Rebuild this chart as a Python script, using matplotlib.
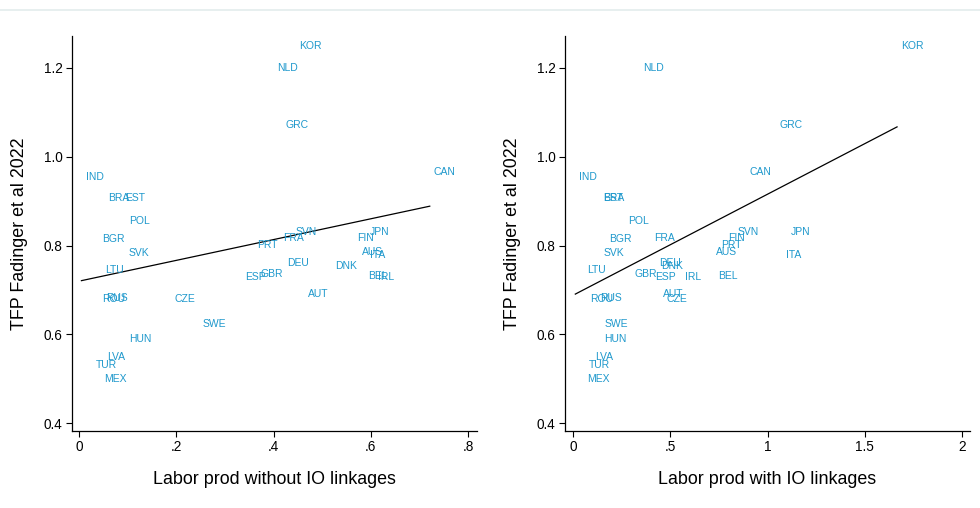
import numpy as np
import matplotlib
matplotlib.use("Agg")
import matplotlib.pyplot as plt
from matplotlib.lines import Line2D

plt.rcParams['font.family'] = ['Liberation Sans', 'DejaVu Sans']

countries = ["IND", "BRA", "EST", "POL", "BGR", "SVK", "LTU", "ROU", "RUS", "CZE",
             "SWE", "HUN", "LVA", "TUR", "MEX", "SVN", "FRA", "PRT", "JPN", "FIN",
             "AUS", "ITA", "DEU", "DNK", "ESP", "GBR", "BEL", "IRL", "AUT", "KOR",
             "NLD", "GRC", "CAN"]

tfp = [0.955, 0.906, 0.906, 0.855, 0.815, 0.784, 0.744, 0.679, 0.682, 0.679,
       0.624, 0.590, 0.548, 0.531, 0.500, 0.831, 0.817, 0.802, 0.831, 0.818,
       0.785, 0.779, 0.761, 0.753, 0.730, 0.735, 0.732, 0.730, 0.690, 1.249,
       1.200, 1.072, 0.966]

lp_no_io = [0.005, 0.051, 0.086, 0.095, 0.038, 0.093, 0.045, 0.038, 0.047, 0.187,
            0.245, 0.094, 0.049, 0.027, 0.044, 0.437, 0.410, 0.358, 0.589, 0.563,
            0.573, 0.590, 0.419, 0.518, 0.332, 0.364, 0.585, 0.607, 0.462, 0.444,
            0.399, 0.415, 0.721]

lp_io = [0.012, 0.132, 0.134, 0.261, 0.166, 0.137, 0.051, 0.065, 0.118, 0.461,
         0.142, 0.137, 0.094, 0.058, 0.053, 0.823, 0.394, 0.739, 1.100, 0.775,
         0.715, 1.075, 0.422, 0.430, 0.399, 0.293, 0.723, 0.554, 0.441, 1.666,
         0.339, 1.039, 0.884]

yticks = [0.4, 0.6, 0.8, 1.0, 1.2]
ytick_labels = ["0.4", "0.6", "0.8", "1.0", "1.2"]
xticks_left = [0, 0.2, 0.4, 0.6, 0.8]
xtick_labels_left = ["0", ".2", ".4", ".6", ".8"]
xticks_right = [0, 0.5, 1, 1.5, 2]
xtick_labels_right = ["0", ".5", "1", "1.5", "2"]

ylabel = "TFP Fadinger et al 2022"
xlabel_left = "Labor prod without IO linkages"
xlabel_right = "Labor prod with IO linkages"

label_color = "#1e98cc"

fig = plt.figure(figsize=(9.8, 5.08), dpi=100)
fig.add_artist(Line2D([0, 1], [1 - 10 / 508, 1 - 10 / 508], transform=fig.transFigure,
                      color="#e3ecec", lw=1.2))

ax1 = fig.add_axes([72 / 980, 1 - 430.7 / 508, (476.7 - 72) / 980, (430.7 - 36) / 508])
ax2 = fig.add_axes([565 / 980, 1 - 430.7 / 508, (970 - 565) / 980, (430.7 - 36) / 508])

panels = [
    (ax1, lp_no_io, (-0.0144, 0.8175), xticks_left, xtick_labels_left, xlabel_left),
    (ax2, lp_io, (-0.041, 2.041), xticks_right, xtick_labels_right, xlabel_right),
]

for ax, xs, xlim, xt, xtl, xl in panels:
    xs = np.array(xs)
    ys = np.array(tfp)
    for c, x, y in zip(countries, xs, ys):
        ax.annotate(c, (x, y), xytext=(3, 0), textcoords="offset points",
                    ha="left", va="center", fontsize=7.5, color=label_color)
    b, a = np.polyfit(xs, ys, 1)
    xx = np.array([xs.min(), xs.max()])
    ax.plot(xx, a + b * xx, color="black", lw=0.9)
    ax.set_xlim(*xlim)
    ax.set_ylim(0.383, 1.272)
    ax.set_xticks(xt)
    ax.set_xticklabels(xtl)
    ax.set_yticks(yticks)
    ax.set_yticklabels(ytick_labels)
    ax.spines["top"].set_visible(False)
    ax.spines["right"].set_visible(False)
    for s in ["left", "bottom"]:
        ax.spines[s].set_linewidth(0.9)
    ax.tick_params(axis="both", direction="out", length=4, width=0.8, labelsize=9.8, pad=3)
    ax.set_xlabel(xl, fontsize=12.9, labelpad=12)
    ax.set_ylabel(ylabel, fontsize=12.9, labelpad=11)

fig.savefig("out.png", dpi=100, facecolor="white")
